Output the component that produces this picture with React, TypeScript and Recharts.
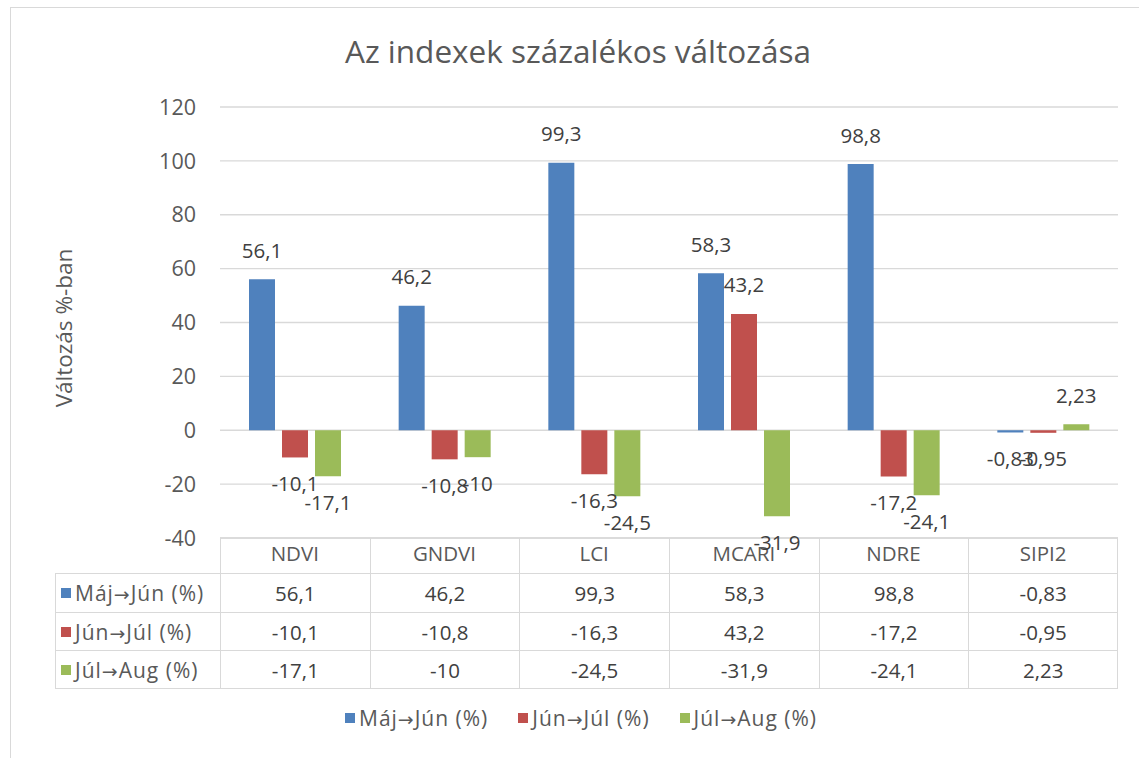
import { BarChart, Bar, XAxis, YAxis, CartesianGrid, LabelList } from 'recharts'

const categories = ['NDVI', 'GNDVI', 'LCI', 'MCARI', 'NDRE', 'SIPI2']
const majJun = [56.1, 46.2, 99.3, 58.3, 98.8, -0.83]
const junJul = [-10.1, -10.8, -16.3, 43.2, -17.2, -0.95]
const julAug = [-17.1, -10, -24.5, -31.9, -24.1, 2.23]
const yTicks = [-40, -20, 0, 20, 40, 60, 80, 100, 120]

const series = [
  { key: 'majJun', from: 'Máj', to: 'Jún (%)', color: '#4F81BD', values: majJun },
  { key: 'junJul', from: 'Jún', to: 'Júl (%)', color: '#C0504D', values: junJul },
  { key: 'julAug', from: 'Júl', to: 'Aug (%)', color: '#9BBB59', values: julAug },
]

const data = categories.map((c, i) => ({
  name: c,
  majJun: majJun[i],
  junJul: junJul[i],
  julAug: julAug[i],
}))

const FONT = '"Open Sans", sans-serif'
const fmt = (v: number) => String(v).replace('.', ',')

const W = 1139
const H = 758
const PLOT_L = 220
const PLOT_R = 1118
const PLOT_B = 538
const COL_W = (PLOT_R - PLOT_L) / categories.length
const HEAD_L = 55
const ROW_TOP = 573
const ROW_H = 38.7
const GRID = '#d9d9d9'

function renderLabel(props: any) {
  const { x, y, width, height, value } = props
  const top = Math.min(y, y + height)
  const bottom = Math.max(y, y + height)
  const ty = value >= 0 ? top - 27 : bottom + 28
  return (
    <text
      x={x + width / 2}
      y={ty}
      textAnchor="middle"
      dominantBaseline="middle"
      fontSize={20.5}
      fontFamily={FONT}
      fill="#404040"
    >
      {fmt(value)}
    </text>
  )
}

function CatTick(props: any) {
  const { x, payload } = props
  return (
    <text
      x={x}
      y={PLOT_B + 18}
      textAnchor="middle"
      dominantBaseline="middle"
      fontSize={20.5}
      fontFamily={FONT}
      fill="#595959"
    >
      {payload.value}
    </text>
  )
}

// series name with a full-size arrow glyph
function SeriesName({ s }: { s: (typeof series)[number] }) {
  return (
    <span style={{ letterSpacing: 1 }}>
      {s.from}
      <span style={{ fontFamily: '"DejaVu Sans", sans-serif', fontSize: '0.9em' }}>→</span>
      {s.to}
    </span>
  )
}

export default function App() {
  return (
    <div
      style={{
        position: 'absolute',
        left: 0,
        top: 0,
        width: W,
        height: H,
        background: '#fff',
        overflow: 'hidden',
        fontFamily: FONT,
      }}
    >
      {/* chart frame */}
      <div
        style={{
          position: 'absolute',
          left: 10,
          top: 7,
          width: W,
          height: H,
          border: '1px solid #d9d9d9',
        }}
      />

      <div
        style={{
          position: 'absolute',
          left: 0,
          width: 1156,
          top: 29,
          textAlign: 'center',
          fontSize: 31.5,
          color: '#595959',
        }}
      >
        Az indexek százalékos változása
      </div>

      <div
        style={{
          position: 'absolute',
          left: 63,
          top: 328,
          transform: 'translate(-50%, -50%) rotate(-90deg)',
          whiteSpace: 'nowrap',
          fontSize: 22.5,
          color: '#595959',
        }}
      >
        Változás %-ban
      </div>

      <div style={{ position: 'absolute', left: 0, top: 0 }}>
        <BarChart
          width={W}
          height={H}
          data={data}
          margin={{ top: 107, right: W - PLOT_R, bottom: H - PLOT_B - 38, left: PLOT_L - 60 }}
          barSize={26}
          barGap={7}
        >
          <CartesianGrid vertical={false} stroke={GRID} strokeWidth={1.3} />
          <XAxis
            dataKey="name"
            height={38}
            axisLine={{ stroke: GRID, strokeWidth: 1.3 }}
            tickLine={false}
            tick={<CatTick />}
          />
          <YAxis
            width={60}
            domain={[-40, 120]}
            ticks={yTicks}
            axisLine={false}
            tickLine={false}
            tickSize={0}
            tickMargin={24}
            tick={{ fontSize: 21.5, fontFamily: FONT, fill: '#595959' }}
          />
          {series.map((s) => (
            <Bar
              key={s.key}
              dataKey={s.key}
              name={`${s.from}→${s.to}`}
              fill={s.color}
              isAnimationActive={false}
            >
              <LabelList dataKey={s.key} content={renderLabel} />
            </Bar>
          ))}
        </BarChart>
      </div>

      {/* data table */}
      <div style={{ position: 'absolute', left: 0, top: 0, pointerEvents: 'none' }}>
        {categories.map((c, i) => (
          <div
            key={c}
            style={{
              position: 'absolute',
              left: PLOT_L + i * COL_W,
              top: PLOT_B,
              width: COL_W,
              height: ROW_TOP - PLOT_B,
              borderLeft: '1px solid #d9d9d9',
              borderRight: i === categories.length - 1 ? '1px solid #d9d9d9' : 'none',
              boxSizing: 'border-box',
            }}
          />
        ))}
        {series.map((s, r) => (
          <div key={s.key}>
            <div
              style={{
                position: 'absolute',
                left: HEAD_L,
                top: ROW_TOP + r * ROW_H,
                width: PLOT_L - HEAD_L,
                height: ROW_H,
                border: '1px solid #d9d9d9',
                borderRight: 'none',
                borderBottom: r === series.length - 1 ? '1px solid #d9d9d9' : 'none',
                boxSizing: 'border-box',
                display: 'flex',
                alignItems: 'center',
                paddingLeft: 5,
                fontSize: 21,
                color: '#595959',
                whiteSpace: 'nowrap',
              }}
            >
              <span
                style={{
                  display: 'inline-block',
                  width: 10,
                  height: 10,
                  background: s.color,
                  marginRight: 4,
                }}
              />
              <SeriesName s={s} />
            </div>
            {s.values.map((v, i) => (
              <div
                key={i}
                style={{
                  position: 'absolute',
                  left: PLOT_L + i * COL_W,
                  top: ROW_TOP + r * ROW_H,
                  width: COL_W,
                  height: ROW_H,
                  border: '1px solid #d9d9d9',
                  borderRight: i === s.values.length - 1 ? '1px solid #d9d9d9' : 'none',
                  borderBottom: r === series.length - 1 ? '1px solid #d9d9d9' : 'none',
                  boxSizing: 'border-box',
                  display: 'flex',
                  alignItems: 'center',
                  justifyContent: 'center',
                  fontSize: 20.5,
                  color: '#404040',
                }}
              >
                {fmt(v)}
              </div>
            ))}
          </div>
        ))}
      </div>

      {/* legend */}
      <div
        style={{
          position: 'absolute',
          left: 345,
          top: 704,
          display: 'flex',
          gap: 30,
          fontSize: 21,
          color: '#595959',
          whiteSpace: 'nowrap',
        }}
      >
        {series.map((s) => (
          <div key={s.key} style={{ display: 'flex', alignItems: 'center' }}>
            <span
              style={{
                display: 'inline-block',
                width: 10,
                height: 10,
                background: s.color,
                marginRight: 4,
              }}
            />
            <SeriesName s={s} />
          </div>
        ))}
      </div>
    </div>
  )
}
